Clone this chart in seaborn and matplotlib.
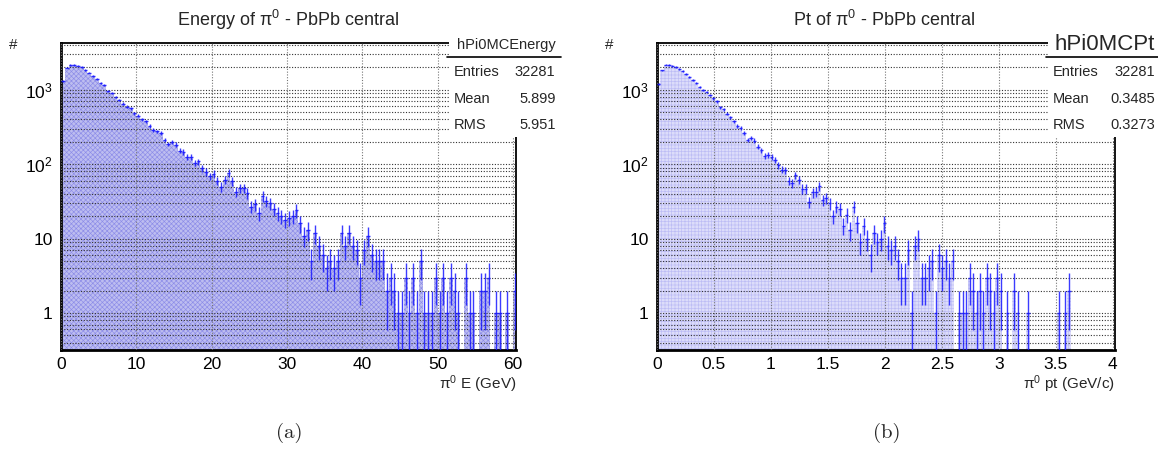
import numpy as np
import pandas as pd
import matplotlib
matplotlib.use("Agg")
import matplotlib.pyplot as plt
import seaborn as sns
from matplotlib.patches import Rectangle
from matplotlib.lines import Line2D
from matplotlib.ticker import FixedLocator, NullFormatter, MultipleLocator

# ---------------- data ----------------
energy_bin_width = 0.5
energy_counts = [
    1320, 1990, 2170, 2170, 2120, 2040, 1855, 1705, 1540, 1390,
    1250, 1155, 980, 920, 805, 727, 655, 597, 568, 487,
    448, 404, 376, 325, 288, 276, 267, 213, 187, 199,
    183, 152, 146, 125, 127, 104, 109, 89, 79, 69,
    75, 60, 50, 62, 77, 59, 43, 48, 48, 41,
    27, 29, 22, 37, 32, 30, 25, 22, 20, 18,
    19, 20, 24, 16, 11, 13, 5, 12, 8, 6,
    4, 5, 4, 5, 12, 8, 12, 8, 7, 3,
    7, 11, 6, 5, 5, 5, 2, 3, 2, 1,
    1, 3, 1, 3, 1, 5, 1, 1, 1, 3,
    1, 3, 1, 3, 2, 1, 0, 3, 1, 1,
    0, 2, 2, 3, 0, 1, 1, 0, 1, 0,
    2,
]
pt_bin_width = 0.03
pt_counts = [
    1195, 1835, 2190, 2150, 2100, 2040, 1920, 1800, 1650, 1488,
    1369, 1245, 1100, 1010, 930, 855, 769, 700, 586, 545,
    475, 428, 378, 326, 306, 262, 212, 228, 208, 172,
    155, 130, 134, 126, 113, 97, 85, 83, 60, 56,
    71, 62, 47, 47, 31, 42, 43, 51, 33, 35,
    30, 20, 27, 25, 15, 21, 13, 27, 16, 9,
    15, 10, 6, 12, 9, 10, 16, 8, 7, 8,
    5, 3, 3, 7, 1, 8, 10, 3, 3, 4,
    5, 1, 6, 4, 5, 3, 5, 0, 1, 1,
    1, 3, 2, 1, 2, 1, 3, 2, 1, 3,
    2, 0, 1, 0, 2, 1, 0, 0, 1, 0,
    0, 0, 0, 0, 0, 0, 0, 1, 0, 1,
    2, 0, 0, 0, 0, 0, 0, 0, 0, 0,
    0, 0, 0, 0,
]

titles = ["Energy of $\\pi^{0}$ - PbPb central", "Pt of $\\pi^{0}$ - PbPb central"]
xlabels = ["$\\pi^{0}$ E (GeV)", "$\\pi^{0}$ pt (GeV/c)"]
hist_names = ["hPi0MCEnergy", "hPi0MCPt"]
stat_entries = ["32281", "32281"]
stat_mean = ["5.899", "0.3485"]
stat_rms = ["5.951", "0.3273"]
captions = ["(a)", "(b)"]
energy_ticks = [0, 10, 20, 30, 40, 50, 60]
pt_ticks = [0, 0.5, 1, 1.5, 2, 2.5, 3, 3.5, 4]
pt_tick_labels = ["0", "0.5", "1", "1.5", "2", "2.5", "3", "3.5", "4"]
y_ticks = [1, 10, 100, 1000]
y_tick_labels = ["1", "10", "$10^{2}$", "$10^{3}$"]

# ---------------- style ----------------
sns.set_theme(style="white")
plt.rcParams["font.family"] = ["Liberation Sans", "DejaVu Sans"]
plt.rcParams["mathtext.fontset"] = "custom"
plt.rcParams["mathtext.rm"] = "Liberation Sans"
plt.rcParams["mathtext.it"] = "Liberation Sans"
plt.rcParams["mathtext.default"] = "regular"
plt.rcParams["hatch.linewidth"] = 0.45

W, H = 1158, 451
fig = plt.figure(figsize=(W / 100, H / 100), dpi=100)
fig.patch.set_facecolor("white")


def fx(px):
    return px / W


def fy(py):
    return 1 - py / H


frame_top, frame_bot = 43, 350
panels = [
    dict(left=61, right=516, counts=energy_counts, bw=energy_bin_width, xmax=60.4,
         ticks=energy_ticks, ticklabels=[str(t) for t in energy_ticks], minor=2,
         face="#bdbdf0", hatch="xxxxxxx", hcolor="#8c8ce8"),
    dict(left=657, right=1115, counts=pt_counts, bw=pt_bin_width, xmax=4.02,
         ticks=pt_ticks, ticklabels=pt_tick_labels, minor=0.1,
         face="#dcdcfa", hatch="+++++", hcolor="#bcbcf5"),
]

for i, p in enumerate(panels):
    ax = fig.add_axes([fx(p["left"]), fy(frame_bot), fx(p["right"] - p["left"]),
                       (frame_bot - frame_top) / H])
    counts = np.array(p["counts"], dtype=float)
    n = len(counts)
    edges = [k * p["bw"] for k in range(n + 1)]
    centers = np.array(edges[:-1]) + p["bw"] / 2
    df = pd.DataFrame({"x": centers, "w": counts})

    plt.rcParams["hatch.color"] = p["hcolor"]
    sns.histplot(data=df, x="x", weights="w", bins=edges, element="step", fill=True,
                 color=p["face"], alpha=1.0, linewidth=0, edgecolor=p["hcolor"],
                 hatch=p["hatch"], ax=ax, zorder=1)
    ax.set_yscale("log")

    m = counts > 0
    ax.errorbar(centers[m], counts[m], xerr=p["bw"] / 2, yerr=np.sqrt(counts[m]),
                fmt="none", ecolor="#1a1aff", elinewidth=1.0, capsize=0, alpha=0.85,
                zorder=3)

    ax.set_xlim(0, p["xmax"])
    ax.set_ylim(0.318, 4270)
    ax.set_xlabel("")
    ax.set_ylabel("")

    ax.set_xticks(p["ticks"])
    ax.set_xticklabels(p["ticklabels"], fontsize=12.5)
    ax.xaxis.set_minor_locator(MultipleLocator(p["minor"]))
    ax.set_yticks(y_ticks)
    ax.set_yticklabels(y_tick_labels, fontsize=12.5)
    minors = [s * 10.0 ** d for d in range(-1, 4) for s in range(2, 10)]
    ax.yaxis.set_minor_locator(FixedLocator(minors))
    ax.yaxis.set_minor_formatter(NullFormatter())

    ax.tick_params(axis="both", which="both", direction="in", top=False, right=False,
                   colors="black")
    ax.tick_params(axis="y", which="major", length=11, width=1.6, pad=6)
    ax.tick_params(axis="y", which="minor", length=6, width=1.2)
    ax.tick_params(axis="x", which="major", length=9, width=1.6, pad=5)
    ax.tick_params(axis="x", which="minor", length=4.5, width=1.2)

    ax.grid(True, axis="y", which="both", linestyle=(0, (1, 1.5)), color="#333333",
            linewidth=0.8, zorder=2)
    ax.grid(True, axis="x", which="major", linestyle=(0, (1, 1.5)), color="#777777",
            linewidth=0.8, zorder=2)
    ax.set_axisbelow(False)

    for side in ["left", "bottom"]:
        ax.spines[side].set_linewidth(2.0)
        ax.spines[side].set_color("black")
    for side in ["top", "right"]:
        ax.spines[side].set_linewidth(1.3)
        ax.spines[side].set_color("black")

    off = p["left"] - 61
    width = p["right"] - p["left"]
    # title
    fig.text(fx(off + 288), fy(20), titles[i], ha="center", va="center", fontsize=13)
    # y label
    fig.text(fx(off + 13), fy(45), "#", ha="center", va="center", fontsize=11)
    # x label
    fig.text(fx(p["right"]), fy(384), xlabels[i], ha="right", va="center", fontsize=11)
    # caption
    fig.text(fx(p["left"] + width / 2 + 1), fy(433), captions[i], ha="center", va="center",
             fontsize=15, family="cmr10")

    # stats box
    bx0 = p["left"] + 0.853 * width
    bx1 = p["left"] + 1.098 * width
    by0, by1 = 32, 137
    fig.add_artist(Rectangle((fx(bx0), fy(by1)), fx(bx1 - bx0), (by1 - by0) / H,
                             transform=fig.transFigure, facecolor="white",
                             edgecolor="none", zorder=5))
    fig.add_artist(Line2D([fx(bx0 - 2), fx(bx1)], [fy(57), fy(57)],
                          transform=fig.transFigure, color="black", lw=1.2, zorder=6))
    name_fs = 10.5 if i == 0 else 16
    fig.text(fx(bx1 - 5), fy(45 if i == 0 else 44), hist_names[i], ha="right", va="center",
             fontsize=name_fs, zorder=7)
    for (lab, val, yy) in [("Entries", stat_entries[i], 72), ("Mean", stat_mean[i], 99),
                           ("RMS", stat_rms[i], 125)]:
        fig.text(fx(bx0 + 5), fy(yy), lab, ha="left", va="center", fontsize=10.5, zorder=7)
        fig.text(fx(bx1 - 5), fy(yy), val, ha="right", va="center", fontsize=10.5, zorder=7)

fig.savefig("out.png", dpi=100, facecolor="white")
